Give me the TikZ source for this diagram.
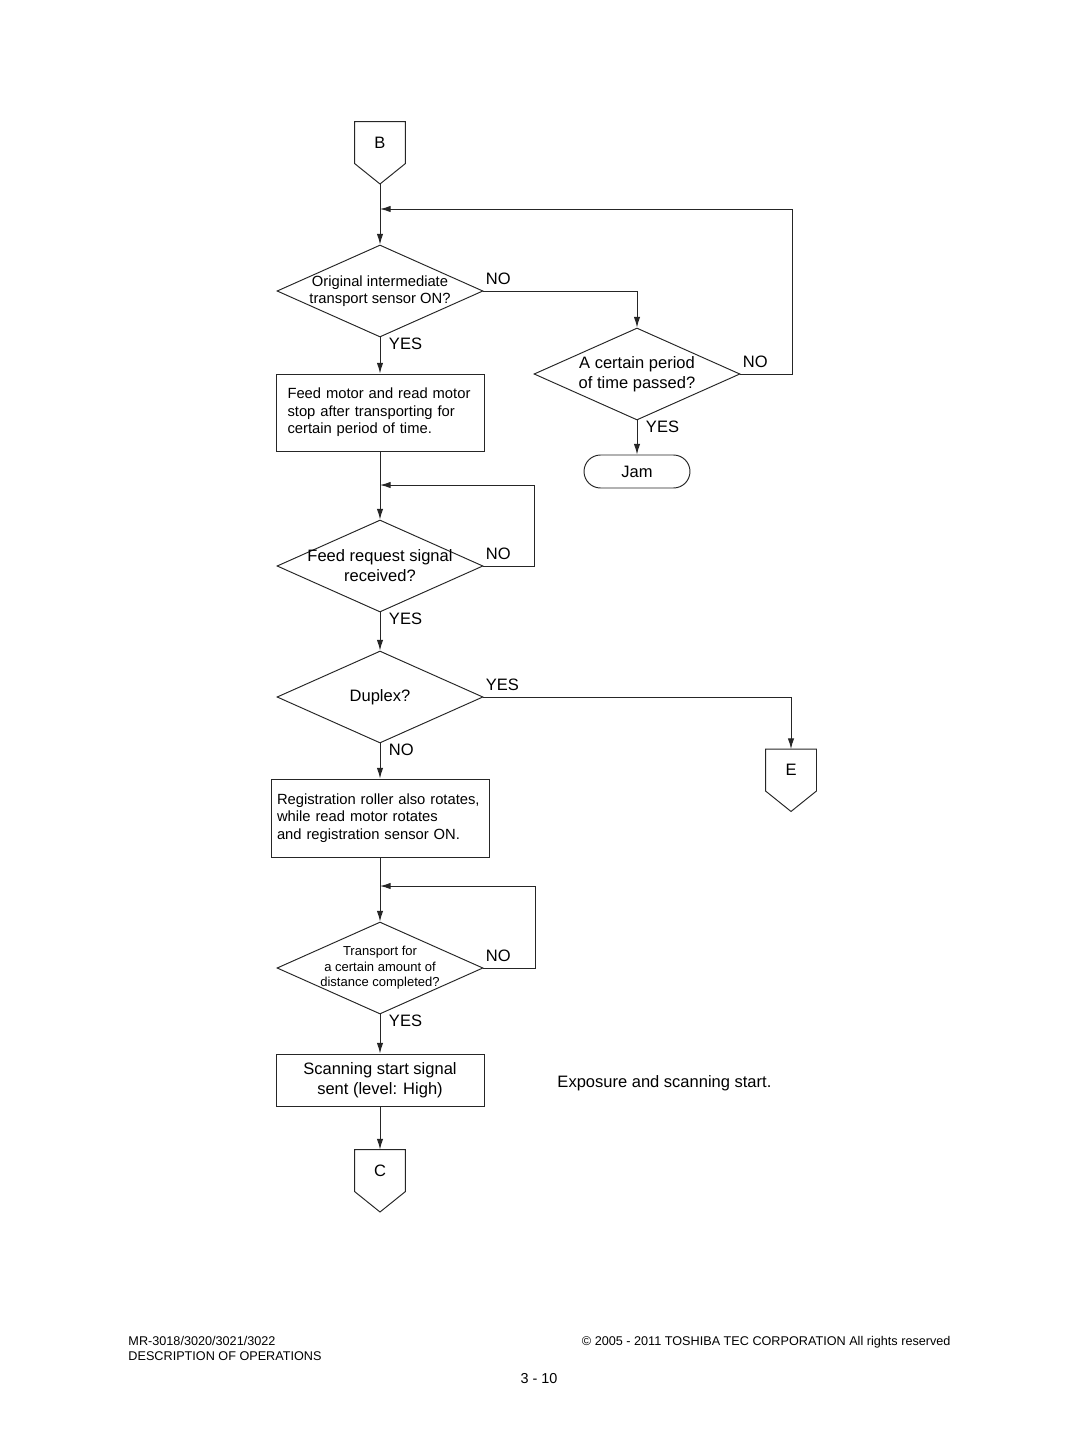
\documentclass[tikz,border=0pt]{standalone}
\usepackage{fontspec}
\setmainfont{Liberation Sans}
\usetikzlibrary{shapes.geometric,arrows.meta,calc}

\begin{document}
\begin{tikzpicture}[x=0.02cm,y=-0.02cm,line width=0.55pt,
  arr/.style={draw=black!85,-{Latex[length=6pt,width=3.6pt]}},
  ln/.style={draw=black!85},
  dec/.style={diamond,aspect=2.24,draw=black!85,minimum width=4.12cm,minimum height=1.84cm,inner sep=-8pt,align=center,font=\fontsize{8.4}{9.6}\selectfont},
  decbig/.style={dec,font=\fontsize{9.4}{11.3}\selectfont},
  decsmall/.style={dec,font=\fontsize{7.4}{8.8}\selectfont},
  proc/.style={rectangle,draw=black!85,align=left,font=\fontsize{8.4}{9.9}\selectfont},
  offpage/.style={rectangle,minimum width=1cm,minimum height=0.82cm,inner sep=0,font=\fontsize{9.4}{11}\selectfont},
  lbl/.style={inner sep=0,font=\fontsize{9.4}{11}\selectfont},
  rlbl/.style={lbl,anchor=west,xshift=0.04cm,yshift=0.24cm},
  blbl/.style={lbl,anchor=west,xshift=0.17cm,yshift=-0.13cm},
  foot/.style={inner sep=0,font=\fontsize{7.2}{8.5}\selectfont}]
\useasboundingbox (0,0) rectangle (1080,1437);

\node[offpage] (B) at (380,142.5) {B};
\node[dec] (d1) at (380,291) {Original intermediate\\transport sensor ON?};
\node[decbig] (d2) at (637,374) {A certain period\\of time passed?};
\node[rectangle,draw=black!85,rounded corners=0.33cm,minimum width=2.12cm,minimum height=0.66cm,font=\fontsize{9.4}{11}\selectfont] (jam) at (637,471.5) {Jam};
\node[proc,text width=3.7cm,inner xsep=0.23cm,minimum height=1.54cm] (box1) at (380,412.5) {Feed motor and read motor\\stop after transporting for\\certain period of time.};
\node[decbig] (d3) at (380,566) {Feed request signal\\received?};
\node[decbig] (d4) at (380,697) {Duplex?};
\node[offpage] (E) at (791,770) {E};
\node[proc,text width=4.12cm,inner xsep=0.12cm,minimum height=1.56cm] (box2) at (380,818) {Registration roller also rotates,\\while read motor rotates\\and registration sensor ON.};
\node[decsmall] (d5) at (380,968) {Transport for\\a certain amount of\\distance completed?};
\node[proc,align=center,minimum width=4.16cm,minimum height=1.04cm,font=\fontsize{9.4}{11.3}\selectfont] (box3) at (380,1080) {Scanning start signal\\sent (level: High)};
\node[lbl,anchor=west] (expo) at (557,1083) {Exposure and scanning start.};
\node[offpage] (C) at (380,1170.5) {C};

\foreach \n in {B,E,C}
  \draw[ln] (\n.south west) -- (\n.north west) -- (\n.north east) -- (\n.south east) -- ($(\n.south)+(0,20.5)$) coordinate (\n tip) -- cycle;

\coordinate (m1) at (380,209);
\coordinate (m2) at (380,485);
\coordinate (m3) at (380,886);

\draw[arr] (Btip) -- (d1.north);
\draw[arr] (d1.east) -| (d2.north);
\draw[arr] (d2.east) -- ++(52,0) |- (m1);
\draw[arr] (d2.south) -- (jam.north);
\draw[arr] (d1.south) -- (box1.north);
\draw[arr] (box1.south) -- (d3.north);
\draw[arr] (d3.east) -- ++(51,0) |- (m2);
\draw[arr] (d3.south) -- (d4.north);
\draw[arr] (d4.east) -| (E.north);
\draw[arr] (d4.south) -- (box2.north);
\draw[arr] (box2.south) -- (d5.north);
\draw[arr] (d5.east) -- ++(52,0) |- (m3);
\draw[arr] (d5.south) -- (box3.north);
\draw[arr] (box3.south) -- (C.north);

\node[rlbl] (no1) at (d1.east) {NO};
\node[blbl] (yes1) at (d1.south) {YES};
\node[rlbl] (no2) at (d2.east) {NO};
\node[blbl] (yes2) at (d2.south) {YES};
\node[rlbl] (no3) at (d3.east) {NO};
\node[blbl] (yes3) at (d3.south) {YES};
\node[rlbl] (yes4) at (d4.east) {YES};
\node[blbl] (no4) at (d4.south) {NO};
\node[rlbl] (no5) at (d5.east) {NO};
\node[blbl] (yes5) at (d5.south) {YES};

\node[foot,anchor=base west] (model) at (128,1345.5) {MR-3018/3020/3021/3022};
\node[foot,anchor=base west] (desc) at (128,1360.5) {DESCRIPTION OF OPERATIONS};
\node[foot,anchor=base east] (copy) at (951,1345.5) {© 2005 - 2011 TOSHIBA TEC CORPORATION All rights reserved};
\node[foot,anchor=base,font=\fontsize{8.2}{10}\selectfont] (page) at (539,1383) {3 - 10};
\end{tikzpicture}
\end{document}
